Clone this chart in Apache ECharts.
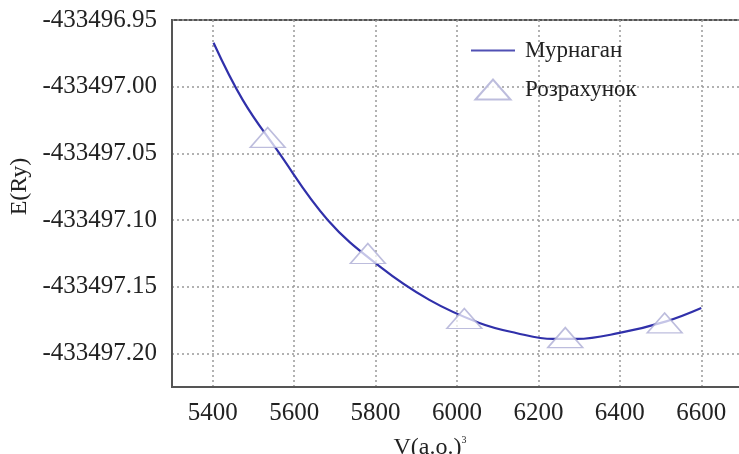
<!DOCTYPE html>
<html>
<head>
<meta charset="utf-8">
<script src="https://cdn.jsdelivr.net/npm/echarts@6/dist/echarts.min.js"></script>
<style>
html,body{margin:0;padding:0;background:#fff;}
#chart{width:739px;height:454px;}
</style>
</head>
<body>
<div id="chart"></div>
<script>
// Murnaghan fit curve
const curveV = [5402, 5474, 5557, 5683, 5810, 5932, 6055, 6145, 6236, 6293, 6399, 6514, 6600];
const curveE = [-433496.967, -433497.010, -433497.047, -433497.100, -433497.1346, -433497.1597, -433497.177, -433497.1845, -433497.189, -433497.189, -433497.1845, -433497.1758, -433497.1658];
// Calculated points
const calcV = [5535, 5781, 6018, 6266, 6510];
const calcE = [-433497.038, -433497.125, -433497.1737, -433497.188, -433497.177];
const seriesNames = ['Мурнаган', 'Розрахунок'];
const xName = 'V(a.o.)';
const yName = 'E(Ry)';

const triPath = 'path://M0,20 L17.5,0 L35,20 Z';
const linePath = 'path://M0,0 L44,0 L44,2 L0,2 Z';
const font = 'Liberation Serif';
const chart = echarts.init(document.getElementById('chart'));
chart.setOption({
  animation: false,
  backgroundColor: '#fff',
  grid: {left: 172, top: 20, right: -3, bottom: 67, show: true, borderColor: '#555', borderWidth: 2,
         containLabel: false, outerBoundsMode: 'none'},
  legend: {
    orient: 'vertical', left: 466, top: 34, itemWidth: 44, itemHeight: 20, itemGap: 16,
    textStyle: {fontFamily: font, fontSize: 23, color: '#222', padding: [0,0,0,5]},
    data: [{name: seriesNames[0], icon: linePath, itemStyle: {color: '#5050b4'}}, {name: seriesNames[1], icon: triPath}]
  },
  xAxis: {
    type: 'value', min: 5300, max: 6700, splitNumber: 7,
    name: xName + '{s|3}', nameLocation: 'middle', nameGap: 48,
    nameTextStyle: {fontFamily: font, fontSize: 24, color: '#222', padding: [0, 54, 0, 0],
      rich: {s: {fontFamily: font, fontSize: 10, color: '#222', padding: [0, 0, 16, 0]}}},
    axisLine: {lineStyle: {color: '#555', width: 2}},
    axisTick: {show: false},
    axisLabel: {fontFamily: font, fontSize: 25, color: '#222', margin: 14, showMinLabel: false, showMaxLabel: false,
      formatter: v => String(v)},
    splitLine: {show: true, lineStyle: {color: '#999', type: [2, 3], width: 1.5}}
  },
  yAxis: {
    type: 'value', min: -433497.225, max: -433496.95, splitNumber: 5,
    name: yName, nameLocation: 'middle', nameGap: 137,
    nameTextStyle: {fontFamily: font, fontSize: 24, color: '#222', padding: [0, 0, 0, 34]},
    axisLine: {lineStyle: {color: '#555', width: 2}},
    axisTick: {show: false},
    axisLabel: {fontFamily: font, fontSize: 25, color: '#222', margin: 15, showMinLabel: false,
      padding: [4, 0, 0, 0], formatter: v => v.toFixed(2)},
    splitLine: {show: true, lineStyle: {color: '#999', type: [2, 3], width: 1.5}}
  },
  series: [
    {name: seriesNames[0], type: 'line', smooth: 0.4, symbol: 'none',
     data: curveV.map((v, i) => [v, curveE[i]]),
     lineStyle: {color: '#3030aa', width: 2.2}, itemStyle: {color: '#3030aa'}, z: 2},
    {name: seriesNames[1], type: 'scatter', symbol: triPath, symbolSize: [35, 20],
     data: calcV.map((v, i) => [v, calcE[i]]),
     itemStyle: {color: 'rgba(255,255,255,0.9)', borderColor: '#acacd4', borderWidth: 1.5}, z: 3}
  ]
});
</script>
</body>
</html>
